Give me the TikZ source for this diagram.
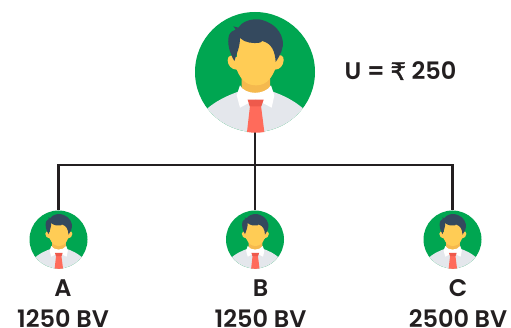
\documentclass[tikz,border=0pt]{standalone}
\usepackage{fontspec}
\setmainfont{Poppins SemiBold}
\newfontfamily\rupee{DejaVu Sans}[FakeBold=2]
\definecolor{avgreen}{HTML}{00A651}
\definecolor{avshirt}{HTML}{E4E7EC}
\definecolor{avneck}{HTML}{F5B94E}
\definecolor{avface}{HTML}{FFCC55}
\definecolor{avhair}{HTML}{34495E}
\definecolor{avtie}{HTML}{FF6B5B}
\definecolor{avknot}{HTML}{EE5A4C}
\definecolor{lab}{HTML}{231F20}
\tikzset{
  x=1pt,y=-1pt,
  head/.style={circle,fill=avgreen,inner sep=0pt},
  bighead/.style={head,minimum size=120pt},
  smallhead/.style={head,minimum size=58pt},
  link/.style={draw=lab,line width=2.4pt},
  lbl/.style={text=lab,font=\fontsize{24}{24}\selectfont,inner sep=0pt,anchor=base},
  avatar/.pic={
    \begin{scope}[shift={(-210,-215)}]
      \begin{scope}
        \clip (210,215) circle[radius=180];
        \fill[avshirt] (50,340) .. controls (90,300) and (130,285) .. (165,272) -- (258,272) .. controls (295,285) and (330,300) .. (372,340) -- (372,400) -- (50,400) -- cycle;
      \end{scope}
      \fill[avneck] (170,225) -- (255,225) -- (255,270) .. controls (240,300) and (190,300) .. (170,270) -- cycle;
      \fill[avface] (128,180) .. controls (128,165) and (140,162) .. (150,170) -- (275,170) .. controls (285,160) and (297,165) .. (296,180) .. controls (295,195) and (285,208) .. (270,208) .. controls (255,245) and (235,255) .. (212,255) .. controls (190,255) and (170,245) .. (155,208) .. controls (140,208) and (128,195) .. (128,180) -- cycle;
      \fill[avface] (155,110) rectangle (270,210);
      \fill[avhair] (148,182) .. controls (135,160) and (125,130) .. (132,105) .. controls (136,95) and (145,90) .. (152,88) -- (145,78) -- (160,82) .. controls (170,65) and (195,55) .. (222,57) .. controls (250,62) and (285,80) .. (293,120) .. controls (297,145) and (285,165) .. (272,185) .. controls (270,155) and (262,130) .. (232,122) -- (225,127) .. controls (205,130) and (180,128) .. (165,113) .. controls (165,140) and (155,160) .. (148,182) -- cycle;
      \fill[white] (165,255) .. controls (180,285) and (240,285) .. (258,255) -- (268,285) -- (260,322) -- (212,297) -- (165,322) -- (155,285) -- cycle;
      \fill[avtie] (195,316) -- (228,316) -- (238,395) .. controls (220,398) and (205,398) .. (186,395) -- cycle;
      \fill[avknot] (188,298) -- (236,298) -- (229,318) -- (194,318) -- cycle;
    \end{scope}
  }
}
\begin{document}
\begin{tikzpicture}
  \useasboundingbox (0,0) rectangle (511,328);
  \fill[white] (0,0) rectangle (511,328);
  \node[bighead] (u) at (255,72) {};
  \node[smallhead] (a) at (58.5,239.5) {};
  \node[smallhead] (b) at (255,239.5) {};
  \node[smallhead] (c) at (452.5,239.5) {};
  \coordinate (bus) at (255,165);
  \draw[link] (u.south) -- (bus);
  \draw[link] (a.north) |- (bus);
  \draw[link] (c.north) |- (bus);
  \draw[link] (bus) -- (b.north);
  \pic[scale=1/3] at (u) {avatar};
  \pic[scale=29/180] at (a) {avatar};
  \pic[scale=29/180] at (b) {avatar};
  \pic[scale=29/180] at (c) {avatar};
  \node[lbl] (ut) at (400.5,80) {U = {\rupee ₹} 250};
  \node[lbl] (at) at (63,297) {A};
  \node[lbl] (bt) at (260.5,297) {B};
  \node[lbl] (ct) at (458,297) {C};
  \node[lbl] (av) at (63,328) {1250 BV};
  \node[lbl] (bv) at (260.5,328) {1250 BV};
  \node[lbl] (cv) at (458,328) {2500 BV};
\end{tikzpicture}
\end{document}
